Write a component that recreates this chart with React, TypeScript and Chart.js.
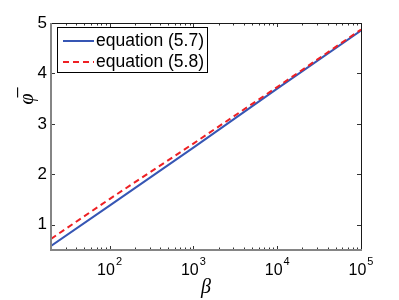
import React, { useEffect, useRef } from 'react';
import { Chart, registerables } from 'chart.js';

Chart.register(...registerables);

// ---- data ----
const beta = [20, 100, 1000, 10000, 100000];
const eq57 = [0.58, 1.38, 2.53, 3.70, 4.85];
const eq58 = [0.72, 1.51, 2.61, 3.73, 4.87];
const seriesLabels = ['equation (5.7)', 'equation (5.8)'];
const seriesColors = ['#3656b4', '#ee2024'];
const yTicks = [1, 2, 3, 4, 5];
const yTickLabels = ['1', '2', '3', '4', '5'];
const xTicks = [100, 1000, 10000, 100000];
const xTickBase = ['10', '10', '10', '10'];
const xTickExp = ['2', '3', '4', '5'];
const xTitle = 'β';
const yTitle = 'φ\u0305';

const xMin = 20;
const xMax = 100000;
const yMin = 0.5;
const yMax = 5;

const SANS = '"Liberation Sans", Arial, Helvetica, sans-serif';
const SERIF = '"Liberation Serif", "Times New Roman", serif';

function minorTicks(): number[] {
  const out: number[] = [];
  for (let d = 10; d < xMax; d *= 10) {
    for (let k = 2; k <= 9; k++) {
      const v = d * k;
      if (v >= xMin && v <= xMax) out.push(v);
    }
  }
  return out;
}

const framePlugin = {
  id: 'matlabFrame',
  afterDraw(chart: any) {
    const { ctx, chartArea: a, scales } = chart;
    const xs = scales.x;
    const ys = scales.y;
    ctx.save();

    // inward ticks
    ctx.strokeStyle = '#333';
    ctx.lineWidth = 1;
    ctx.beginPath();
    minorTicks().forEach((v) => {
      const px = Math.round(xs.getPixelForValue(v)) + 0.5;
      ctx.moveTo(px, a.bottom);
      ctx.lineTo(px, a.bottom - 2.5);
      ctx.moveTo(px, a.top);
      ctx.lineTo(px, a.top + 2.5);
    });
    xTicks.forEach((v) => {
      const px = Math.round(xs.getPixelForValue(v)) + 0.5;
      ctx.moveTo(px, a.bottom);
      ctx.lineTo(px, a.bottom - 4);
      ctx.moveTo(px, a.top);
      ctx.lineTo(px, a.top + 4);
    });
    yTicks.forEach((v) => {
      const py = Math.round(ys.getPixelForValue(v)) + 0.5;
      ctx.moveTo(a.left, py);
      ctx.lineTo(a.left + 4, py);
      ctx.moveTo(a.right, py);
      ctx.lineTo(a.right - 4, py);
    });
    ctx.stroke();

    // frame: top & right dark thin
    ctx.strokeStyle = '#1a1a1a';
    ctx.lineWidth = 1;
    ctx.beginPath();
    ctx.moveTo(a.left, a.top + 0.5);
    ctx.lineTo(a.right + 0.5, a.top + 0.5);
    ctx.lineTo(a.right + 0.5, a.bottom);
    ctx.stroke();
    // left & bottom grey thicker
    ctx.strokeStyle = '#858585';
    ctx.lineWidth = 2;
    ctx.beginPath();
    ctx.moveTo(a.left, a.top);
    ctx.lineTo(a.left, a.bottom);
    ctx.lineTo(a.right + 1, a.bottom);
    ctx.stroke();

    // x tick labels with superscripts
    ctx.fillStyle = '#000';
    ctx.textBaseline = 'alphabetic';
    ctx.textAlign = 'left';
    xTicks.forEach((v, i) => {
      const px = xs.getPixelForValue(v);
      ctx.font = `16px ${SANS}`;
      const w1 = ctx.measureText(xTickBase[i]).width;
      ctx.font = `11px ${SANS}`;
      const w2 = ctx.measureText(xTickExp[i]).width;
      const start = px - (w1 + w2 + 1) / 2;
      ctx.font = `16px ${SANS}`;
      ctx.fillText(xTickBase[i], start, a.bottom + 25);
      ctx.font = `11px ${SANS}`;
      ctx.fillText(xTickExp[i], start + w1 + 1, a.bottom + 15);
    });

    // legend box
    const lx = 57.5, ly = 27.5, lw = 150, lh = 45;
    ctx.fillStyle = '#fff';
    ctx.fillRect(lx, ly, lw, lh);
    ctx.strokeStyle = '#000';
    ctx.lineWidth = 1;
    ctx.strokeRect(lx, ly, lw, lh);
    const rows = [41, 62];
    rows.forEach((ry, i) => {
      ctx.strokeStyle = seriesColors[i];
      ctx.lineWidth = 2;
      ctx.setLineDash(i === 1 ? [6, 4] : []);
      ctx.beginPath();
      ctx.moveTo(63, ry);
      ctx.lineTo(94, ry);
      ctx.stroke();
      ctx.setLineDash([]);
      ctx.fillStyle = '#000';
      ctx.font = `17.5px ${SANS}`;
      ctx.textBaseline = 'middle';
      ctx.textAlign = 'left';
      ctx.fillText(seriesLabels[i], 96, ry + 0.5);
    });

    // axis titles
    ctx.fillStyle = '#000';
    ctx.font = `italic 20px ${SERIF}`;
    ctx.textAlign = 'center';
    ctx.textBaseline = 'middle';
    ctx.fillText(xTitle, 206, 288);

    ctx.save();
    ctx.translate(28, 99);
    ctx.rotate(-Math.PI / 2);
    ctx.fillText(yTitle, 0, 0);
    ctx.restore();

    ctx.restore();
  },
};

export default function App() {
  const ref = useRef<HTMLCanvasElement | null>(null);

  useEffect(() => {
    if (!ref.current) return;
    const chart = new Chart(ref.current, {
      type: 'line',
      data: {
        datasets: [
          {
            label: seriesLabels[0],
            data: beta.map((b, i) => ({ x: b, y: eq57[i] })),
            borderColor: seriesColors[0],
            borderWidth: 2,
            pointRadius: 0,
            tension: 0,
            fill: false,
            order: 1,
          },
          {
            label: seriesLabels[1],
            data: beta.map((b, i) => ({ x: b, y: eq58[i] })),
            borderColor: seriesColors[1],
            borderWidth: 2,
            borderDash: [6, 4],
            pointRadius: 0,
            tension: 0,
            fill: false,
            order: 0,
          },
        ],
      },
      options: {
        responsive: false,
        animation: false,
        devicePixelRatio: 1,
        layout: { padding: { top: 23, right: 38, left: 0, bottom: 0 } },
        plugins: {
          legend: { display: false },
          tooltip: { enabled: false },
          title: { display: false },
        },
        scales: {
          x: {
            type: 'logarithmic',
            min: xMin,
            max: xMax,
            grid: { display: false },
            border: { display: false },
            ticks: { display: false },
            afterFit: (s: any) => {
              s.height = 50;
            },
          },
          y: {
            type: 'linear',
            min: yMin,
            max: yMax,
            grid: { display: false, drawTicks: false },
            border: { display: false },
            afterBuildTicks: (s: any) => {
              s.ticks = yTicks.map((v) => ({ value: v }));
            },
            ticks: {
              padding: 4,
              color: '#000',
              font: { family: 'Liberation Sans', size: 17 },
              callback: (_v: any, i: number) => yTickLabels[i],
            },
            afterFit: (s: any) => {
              s.width = 51;
            },
          },
        },
      } as any,
      plugins: [framePlugin],
    });
    return () => chart.destroy();
  }, []);

  return (
    <div style={{ position: 'absolute', left: 0, top: 0, width: 399, height: 300, background: '#fff' }}>
      <canvas ref={ref} width={399} height={300} />
    </div>
  );
}
